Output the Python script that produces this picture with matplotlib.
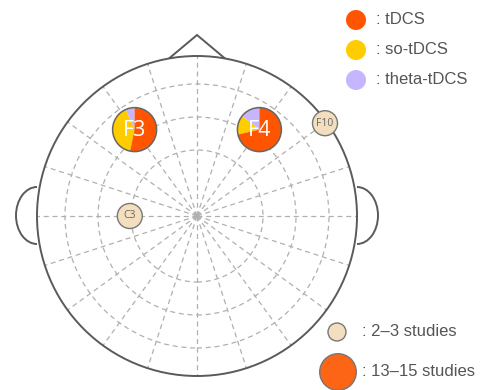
import numpy as np
import matplotlib
matplotlib.use("Agg")
import matplotlib.pyplot as plt
from matplotlib.patches import Circle, Polygon, Arc

# electrode data (position in head-radius units, study counts per method)
electrodes = ['F3', 'F4', 'F10', 'C3']
elec_x = [-0.39, 0.39, 0.80, -0.42]
elec_y = [0.54, 0.54, 0.58, 0.0]
tdcs = [8, 10, 0, 0]
so_tdcs = [6, 2, 0, 0]
theta_tdcs = [1, 2, 0, 0]
n_studies = [15, 14, 2, 3]

methods = ['tDCS', 'so-tDCS', 'theta-tDCS']
method_colors = ['#ff5500', '#ffcc00', '#c6b5ff']
size_labels = ['2\u20133 studies', '13\u201315 studies']

W, H = 486, 390
fig = plt.figure(figsize=(W / 100, H / 100), dpi=100)
ax = fig.add_axes([0, 0, 1, 1])

cx, cy, R = 197, 174, 160
line_c = '#5a5a5a'
grid_c = '#b0b0b0'

# polar grid
for r in [66, 99, 132]:
    ax.add_patch(Circle((cx, cy), r, fill=False, ec=grid_c, lw=0.9,
                        ls=(0, (4, 3)), zorder=1))
for a in np.arange(0, 360, 18):
    t = np.deg2rad(a)
    ax.plot([cx, cx + R * np.cos(t)], [cy, cy + R * np.sin(t)],
            color=grid_c, lw=0.9, ls=(0, (4, 3)), zorder=1)

# head, nose, ears
ax.add_patch(Circle((cx, cy), R, fill=False, ec=line_c, lw=1.4, zorder=2))
nb = 28
ny = np.sqrt(R ** 2 - nb ** 2)
ax.add_patch(Polygon([[cx - nb, cy + ny], [cx, cy + 181], [cx + nb, cy + ny]],
                     closed=False, fill=False, ec=line_c, lw=1.4, zorder=2))
ax.add_patch(Arc((cx - R, cy + 0.5), 42, 57, theta1=90, theta2=270,
                 ec=line_c, lw=1.4, zorder=2))
ax.add_patch(Arc((cx + R, cy + 0.5), 42, 57, theta1=-90, theta2=90,
                 ec=line_c, lw=1.4, zorder=2))

# electrodes
for i, name in enumerate(electrodes):
    x = cx + elec_x[i] * R
    y = cy + elec_y[i] * R
    if n_studies[i] >= 13:
        ax.pie([theta_tdcs[i], so_tdcs[i], tdcs[i]],
               colors=[method_colors[2], method_colors[1], method_colors[0]],
               startangle=90, counterclock=True, center=(x, y), radius=22,
               wedgeprops=dict(edgecolor='none', zorder=3), frame=True)
        ax.add_patch(Circle((x, y), 22, fill=False, ec='#666666', lw=1.1, zorder=4))
        ax.text(x, y - 1, name, color='white', fontsize=15.5, family='Open Sans',
                ha='center', va='center', zorder=5)
    else:
        ax.add_patch(Circle((x, y), 12.5, fc='#f3dfbf', ec='#777777', lw=1.0, zorder=3))
        ax.text(x, y, name, color='#666666', fontsize=7.5, family='Open Sans',
                ha='center', va='center', zorder=5)

# method legend
for j, m in enumerate(methods):
    ly = H - 20 - 30 * j
    ax.add_patch(Circle((356, ly), 10, fc=method_colors[j], ec='none', zorder=3))
    ax.text(376, ly, ': ' + m, color='#555555', fontsize=12,
            family='Liberation Sans', ha='left', va='center')

# size legend
ax.add_patch(Circle((337, H - 332), 9, fc='#f3dfbf', ec='#777777', lw=1.0, zorder=3))
ax.text(362, H - 332, ': ' + size_labels[0], color='#555555', fontsize=12,
        family='Liberation Sans', ha='left', va='center')
ax.add_patch(Circle((338, H - 372), 18.3, fc='#fb6515', ec='#777777', lw=1.0, zorder=3))
ax.text(362, H - 372, ': ' + size_labels[1], color='#555555', fontsize=12,
        family='Liberation Sans', ha='left', va='center')

ax.set_xlim(0, W)
ax.set_ylim(0, H)
ax.set_aspect('auto')
ax.axis('off')
fig.savefig('out.png', dpi=100)
